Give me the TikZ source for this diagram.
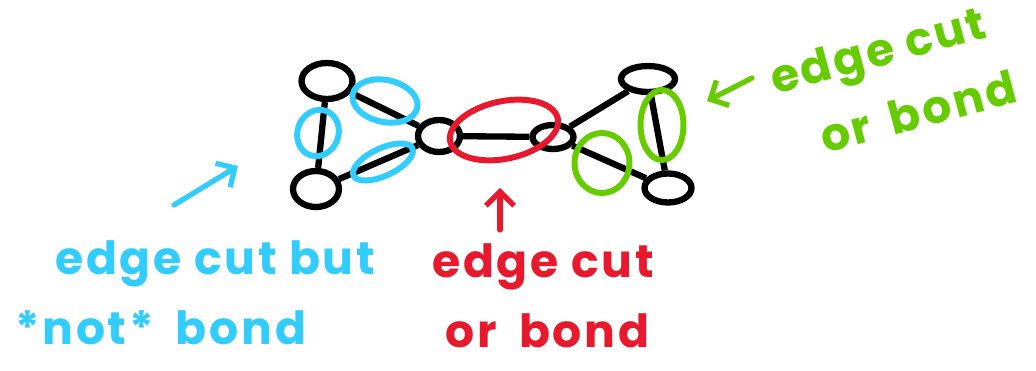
\documentclass[tikz,border=0pt]{standalone}
\usepackage{fontspec}
\setmainfont{Poppins}[LetterSpace=6]
\usetikzlibrary{shapes.geometric, arrows.meta, positioning}
\definecolor{CutBlue}{HTML}{33CCFF}
\definecolor{CutRed}{HTML}{E8192C}
\definecolor{CutGreen}{HTML}{66CC00}

\tikzset{
    vertex/.style={ellipse, draw=black, line width=3.6pt, inner sep=0pt},
    ring/.style={ellipse, draw=#1, line width=3.4pt, inner sep=0pt},
    note/.style={text=#1, font=\fontsize{26}{40}\selectfont\bfseries, align=left, inner sep=0pt},
    pointer/.style={#1, line width=3pt, line cap=round, -{Straight Barb[length=8pt, width=16pt, line width=3pt]}}
}

\begin{document}
\begin{tikzpicture}[x=0.02cm, y=-0.02cm]
    \useasboundingbox (0,0) rectangle (1036,371);

    % Vertices of the graph
    \node[vertex, minimum width=1.02cm, minimum height=0.72cm] (a) at (327,81) {};
    \node[vertex, minimum width=0.92cm, minimum height=0.72cm] (b) at (316,189) {};
    \node[vertex, minimum width=0.84cm, minimum height=0.64cm] (c) at (439,136) {};
    \node[vertex, minimum width=0.82cm, minimum height=0.48cm] (d) at (553,137) {};
    \node[vertex, minimum width=1.08cm, minimum height=0.52cm] (e) at (648,79) {};
    \node[vertex, minimum width=0.94cm, minimum height=0.58cm] (f) at (668,188) {};

    % Edges
    \draw[line width=3.6pt] (a) -- (b);
    \draw[line width=3.6pt] (a) -- (c);
    \draw[line width=3.6pt] (b) -- (c);
    \draw[line width=3.6pt] (c) -- (d);
    \draw[line width=3.6pt] (d) -- (e);
    \draw[line width=3.6pt] (d) -- (f);
    \draw[line width=3.6pt] (e) -- (f);

    % Blue cut: left triangle edges
    \node[ring=CutBlue, minimum width=0.94cm, minimum height=0.82cm, rotate=70] (cutab) at (318,133) {};
    \node[ring=CutBlue, minimum width=1.32cm, minimum height=0.84cm, rotate=-12] (cutac) at (385,101) {};
    \node[ring=CutBlue, minimum width=1.30cm, minimum height=0.55cm, rotate=25] (cutbc) at (383,162) {};

    % Red cut: the bridge
    \node[ring=CutRed, minimum width=2.20cm, minimum height=1.15cm, rotate=12] (cutcd) at (504,130) {};

    % Green cut: right triangle edges
    \node[ring=CutGreen, minimum width=1.10cm, minimum height=1.20cm] (cutdf) at (602,163) {};
    \node[ring=CutGreen, minimum width=0.86cm, minimum height=1.40cm] (cutef) at (662,125) {};

    % Labels
    \node[note=CutBlue, anchor=north west] (bluelabel) at (15,240) {\hspace*{0.8cm}edge cut but\\*not*\hspace{0.2cm} bond};
    \node[note=CutRed, anchor=north west] (redlabel) at (432,243) {edge cut\\\hspace*{0.26cm}or\hspace{0.2cm} bond};
    \node[note=CutGreen, rotate=15] (greenlabel) at (893,82) {edge cut\\\hspace*{0.66cm}or\hspace{0.15cm} bond};

    % Arrows
    \coordinate (bluetail) at (174,205);
    \coordinate (bluetip) at (238,166);
    \coordinate (redtail) at (500,230);
    \coordinate (redtip) at (500,188);
    \coordinate (greentail) at (752,78);
    \coordinate (greentip) at (707,101);
    \draw[pointer=CutBlue] (bluetail) -- (bluetip);
    \draw[pointer=CutRed] (redtail) -- (redtip);
    \draw[pointer=CutGreen] (greentail) -- (greentip);
\end{tikzpicture}
\end{document}
